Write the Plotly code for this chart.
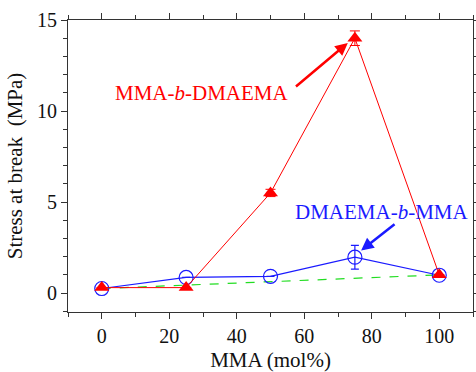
import plotly.graph_objects as go

mma = [0, 25, 50, 75, 100]
red_y = [0.3, 0.3, 5.5, 14.0, 1.0]
red_err = [0.0, 0.0, 0.2, 0.4, 0.0]
blue_y = [0.25, 0.86, 0.92, 1.97, 0.98]
blue_err = [0.0, 0.0, 0.0, 0.65, 0.0]
green_x = [0, 100]
green_y = [0.25, 1.0]

FONT = "Times New Roman"
fig = go.Figure()
fig.add_trace(go.Scatter(x=green_x, y=green_y, mode="lines",
                         line=dict(color="#22dd22", width=1.2, dash="dash"), showlegend=False))
fig.add_trace(go.Scatter(x=mma, y=blue_y, mode="lines+markers",
                         line=dict(color="#1a1aff", width=1.2),
                         marker=dict(symbol="circle-open", size=14, color="#1a1aff", line=dict(width=1.2)),
                         error_y=dict(type="data", array=blue_err, color="#1a1aff", thickness=1.2, width=4),
                         showlegend=False))
fig.add_trace(go.Scatter(x=mma, y=red_y, mode="lines+markers",
                         line=dict(color="#ff0000", width=1),
                         marker=dict(symbol="triangle-up", size=13, color="#ff0000"),
                         error_y=dict(type="data", array=red_err, color="#ff0000", thickness=1, width=5),
                         showlegend=False))

fig.add_annotation(x=29.8, y=10.99, text="MMA-<i>b</i>-DMAEMA", showarrow=False,
                   font=dict(family=FONT, size=21, color="#ff0000"))
fig.add_annotation(x=72.9, y=13.74, ax=57.1, ay=11.28, axref="x", ayref="y", text="",
                   showarrow=True, arrowhead=2, arrowsize=1, arrowwidth=2.5, arrowcolor="#ff0000")
fig.add_annotation(x=83.0, y=4.48, text="DMAEMA-<i>b</i>-MMA", showarrow=False,
                   font=dict(family=FONT, size=21, color="#1a1aff"))
fig.add_annotation(x=76.85, y=2.34, ax=87.2, ay=3.85, axref="x", ayref="y", text="",
                   showarrow=True, arrowhead=2, arrowsize=1, arrowwidth=2.5, arrowcolor="#1a1aff")

axis_common = dict(showline=True, linecolor="#333333", linewidth=1.2, mirror="allticks",
                   ticks="outside", ticklen=6, tickcolor="#333333", tickwidth=1,
                   showgrid=False, zeroline=False, automargin=False,
                   tickfont=dict(family=FONT, size=20, color="#111111"))
fig.update_xaxes(range=[-10, 110], dtick=20, tick0=0,
                 minor=dict(dtick=10, ticklen=4, ticks="outside", tickcolor="#333333"),
                 title=dict(text="MMA (mol%)", font=dict(family=FONT, size=21, color="#111111"), standoff=10),
                 **axis_common)
fig.update_yaxes(range=[-1.04, 15], dtick=5, tick0=0,
                 minor=dict(dtick=1, ticklen=4, ticks="outside", tickcolor="#333333"),
                 title=dict(text="Stress at break\u00a0\u00a0(MPa)", font=dict(family=FONT, size=21, color="#111111"), standoff=8),
                 **axis_common)
fig.update_layout(width=476, height=372, margin=dict(l=68, r=3, t=20, b=60),
                  font=dict(family=FONT),
                  plot_bgcolor="white", paper_bgcolor="white")
fig.write_html("out.html", config={"displayModeBar": False},
               post_script="document.body.style.margin='0';document.body.style.overflow='hidden';")
